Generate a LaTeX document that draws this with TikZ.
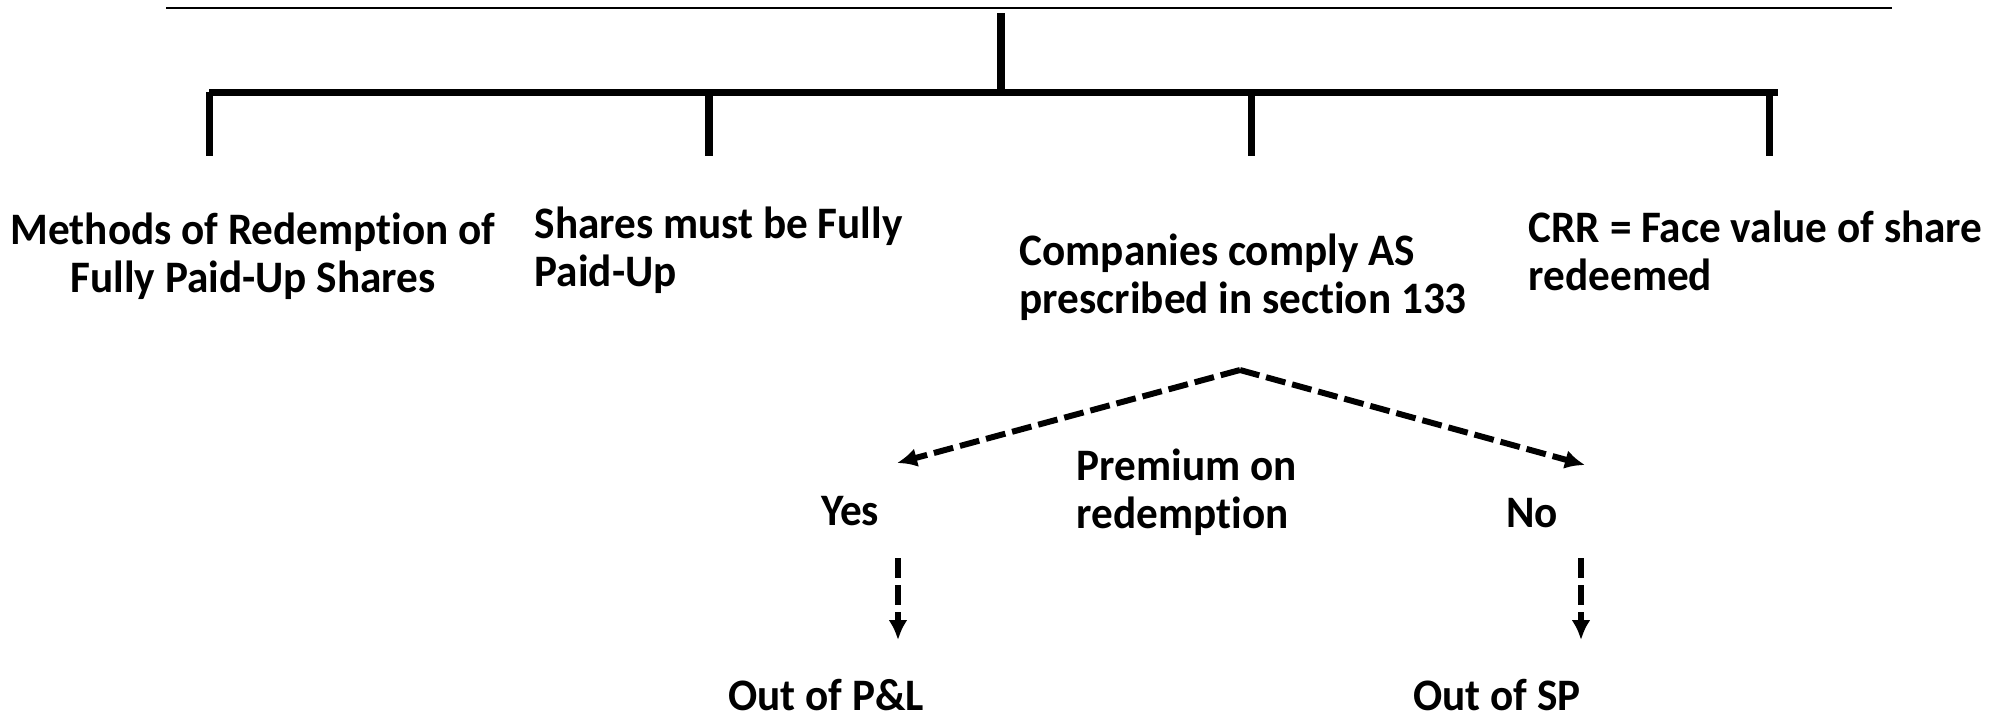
\documentclass[tikz,border=0pt]{standalone}
\usepackage{fontspec}
\setmainfont{Carlito}[FakeStretch=0.96, Ligatures=NoCommon]
\usetikzlibrary{arrows.meta}

\begin{document}
\begin{tikzpicture}[x=0.01cm, y=-0.01cm, >={Latex[length=2mm,width=1.9mm]},
    every node/.style={font=\fontsize{12.8}{13.7}\selectfont\bfseries, inner sep=0pt},
    tree/.style={line width=2pt},
    branch/.style={->, line width=1.7pt, dash pattern=on 2mm off 0.7mm}]
  \useasboundingbox (0,0) rectangle (2000,711);
  % Thin rule along the top.
  \coordinate (ruleL) at (166,8);
  \coordinate (ruleR) at (1892,8);
  \draw[line width=0.3pt] (ruleL) -- (ruleR);
  % Trunk and the long bar below it.
  \coordinate (root) at (1001,13);
  \coordinate (barL) at (209,92.5);
  \coordinate (barR) at (1778,92.5);
  \draw[tree] (root) -- (root |- barL);
  \draw[tree] (barL) -- (barR);
  % Four drops from the bar.
  \foreach \x/\name in {209.5/a, 709/b, 1251/c, 1769.5/d} {
    \coordinate (drop\name) at (\x,92);
    \draw[tree] (drop\name) -- ++(0,64);
  }
  % Texts under the drops.
  \node[anchor=north, align=center] (methods) at (253,212)
    {Methods of Redemption of\\Fully Paid-Up Shares};
  \node[anchor=north west, align=left] (paid) at (534,206)
    {Shares must be Fully\\Paid-Up};
  \node[anchor=north west, align=left] (comply) at (1019,233)
    {Companies comply AS\\prescribed in section 133};
  \node[anchor=north west, align=left] (crr) at (1528,210)
    {CRR = Face value of share\\redeemed};
  % Premium on redemption: yes or no.
  \coordinate (apex) at (1240,370);
  \coordinate (yesTip) at (897,463);
  \coordinate (noTip) at (1585,465);
  \draw[branch] (apex) -- (yesTip);
  \draw[branch] (apex) -- (noTip);
  \node[anchor=north west, align=left] (premium) at (1076,448)
    {Premium on\\redemption};
  \node[anchor=base] (yes) at (850,525) {Yes};
  \node[anchor=base] (no) at (1532,527) {No};
  % Where the premium comes from.
  \coordinate (yesFrom) at (898,558);
  \coordinate (noFrom) at (1581,558);
  \draw[branch] (yesFrom) -- ++(0,82);
  \draw[branch] (noFrom) -- ++(0,82);
  \node[anchor=base] (pl) at (826,710) {Out of P\&L};
  \node[anchor=base] (sp) at (1497,710) {Out of SP};
\end{tikzpicture}
\end{document}
